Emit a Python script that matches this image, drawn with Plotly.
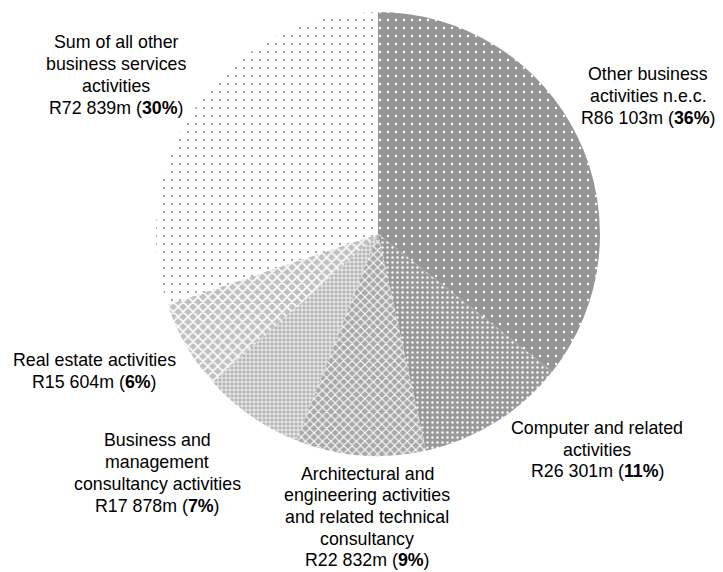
import plotly.graph_objects as go

# ---- data ----
categories = [
    "Other business<br>activities n.e.c.",
    "Computer and related<br>activities",
    "Architectural and<br>engineering activities<br>and related technical<br>consultancy",
    "Business and<br>management<br>consultancy activities",
    "Real estate activities",
    "Sum of all other<br>business services<br>activities",
]
values = [86103, 26301, 22832, 17878, 15604, 72839]  # R million

# ---- styles ----
W, H = 723, 572
cx, cy, r = 378, 234, 222

bgcolors = ["#959595", "#999999", "#a8a8a8", "#b4b4b4", "#c0c0c0", "#ffffff"]
fgcolors = ["#ffffff", "#ffffff", "#ffffff", "#ffffff", "#ffffff", "#8f8f8f"]
shapes = [".", ".", "x", "+", "x", "."]
psizes = [8, 5, 6, 4, 7, 8]
solid = [0.07, 0.18, 0.35, 0.35, 0.4, 0.06]

# label block centres (pixels) and line spacing
lab_x = [648, 597, 367, 157, 94, 116]
lab_y = [96, 449.5, 517, 473, 371, 75]
LINE = 21.7

total = sum(values)

def fmt_amount(v):
    return f"{v:,}".replace(",", " ")

fig = go.Figure()
fig.add_trace(go.Pie(
    values=values,
    labels=[c.replace("<br>", " ") for c in categories],
    sort=False,
    direction="clockwise",
    rotation=0,
    textinfo="none",
    hoverinfo="label+value+percent",
    showlegend=False,
    marker=dict(
        colors=bgcolors,
        line=dict(color="#ffffff", width=0),
        pattern=dict(
            shape=shapes,
            bgcolor=bgcolors,
            fgcolor=fgcolors,
            size=psizes,
            solidity=solid,
            fillmode="replace",
        ),
    ),
    domain=dict(
        x=[(cx - r) / W, (cx + r) / W],
        y=[(H - cy - r) / H, (H - cy + r) / H],
    ),
))

for name, v, x, y in zip(categories, values, lab_x, lab_y):
    pct = round(100 * v / total)
    lines = name.split("<br>") + [f"R{fmt_amount(v)}m (<b>{pct}%</b>)"]
    n = len(lines)
    for i, line in enumerate(lines):
        ly = y + (i - (n - 1) / 2) * LINE
        fig.add_annotation(
            x=x / W, y=1 - ly / H, xref="paper", yref="paper",
            text=line,
            showarrow=False, xanchor="center", yanchor="middle", align="center",
            borderpad=0,
            font=dict(family="Arial, Liberation Sans, sans-serif", size=17.8, color="#000000"),
        )

fig.update_layout(
    width=W, height=H,
    margin=dict(l=0, r=0, t=0, b=0),
    paper_bgcolor="#ffffff",
    plot_bgcolor="#ffffff",
)

fig.write_html("out.html", config={"displayModeBar": False},
               post_script="document.body.style.margin='0';")
